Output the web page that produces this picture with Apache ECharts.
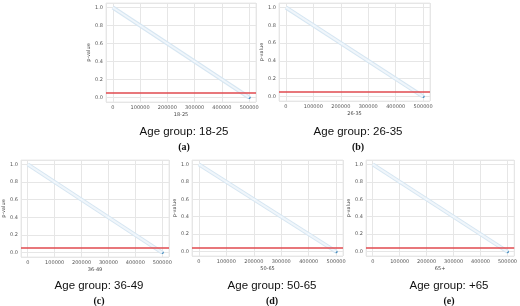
<!DOCTYPE html>
<html>
<head>
<meta charset="utf-8">
<script src="https://cdn.jsdelivr.net/npm/echarts@6/dist/echarts.min.js"></script>
<style>
  html, body { margin: 0; padding: 0; background: #fff; }
  #chart { width: 520px; height: 306px; }
</style>
</head>
<body>
<div id="chart"></div>
<script>
// age groups, one panel each
var groups = ['18-25', '26-35', '36-49', '50-65', '65+'];
var titles = ['Age group: 18-25', 'Age group: 26-35', 'Age group: 36-49', 'Age group: 50-65', 'Age group: +65'];
var letters = ['(a)', '(b)', '(c)', '(d)', '(e)'];

// diagonal of p-values (start / end of the dense band)
var bandX = [0, 500000];
var bandP = [1.0, 0.0];
// last (highlighted) point
var lastX = 500000;
var lastP = 0.0;
// significance level
var alpha = 0.05;

var xTicks = [0, 100000, 200000, 300000, 400000, 500000];
var yTicks = [0.0, 0.2, 0.4, 0.6, 0.8, 1.0];

// panel boxes [left, top, width, height] and caption centres [x, y]
var boxes = [
  [106, 3, 150, 99],
  [279, 3, 151, 98],
  [21, 160, 148, 97],
  [192, 160, 151, 96],
  [366, 160, 151, 96]
];
var captions = [[179, 128], [353, 128], [94, 282], [267, 282], [444, 282]];

var myChart = echarts.init(document.getElementById('chart'));

var grid = [], xAxis = [], yAxis = [], series = [], title = [];

groups.forEach(function (g, i) {
  var b = boxes[i];
  grid.push({
    left: b[0], top: b[1], width: b[2], height: b[3],
    show: true, borderColor: '#ebebeb', borderWidth: 1, backgroundColor: '#fff'
  });
  xAxis.push({
    gridIndex: i, type: 'value', min: -25000, max: 525000,
    name: g, nameLocation: 'middle', nameGap: 10,
    nameTextStyle: { fontSize: 5, color: '#444', fontFamily: 'DejaVu Sans' },
    axisLine: { show: false }, axisTick: { show: false },
    axisLabel: {
      customValues: xTicks, fontSize: 5, color: '#555', margin: 3, fontFamily: 'DejaVu Sans',
      formatter: function (v) { return String(v); }
    },
    splitLine: { show: true, lineStyle: { color: '#e6e6e6', width: 1 } }
  });
  yAxis.push({
    gridIndex: i, type: 'value', min: -0.05, max: 1.05,
    name: 'p-value', nameLocation: 'middle', nameGap: 13, nameRotate: 90,
    nameTextStyle: { fontSize: 5, color: '#444', fontFamily: 'DejaVu Sans' },
    axisLine: { show: false }, axisTick: { show: false },
    axisLabel: {
      customValues: yTicks, fontSize: 5, color: '#555', margin: 3, fontFamily: 'DejaVu Sans',
      formatter: function (v) { return v.toFixed(1); }
    },
    splitLine: { show: true, lineStyle: { color: '#e6e6e6', width: 1 } }
  });

  var band = bandX.map(function (x, k) { return [x, bandP[k]]; });
  // outer edge of the band
  series.push({
    type: 'line', xAxisIndex: i, yAxisIndex: i, data: band,
    showSymbol: false, silent: true,
    lineStyle: { color: '#d6e6f2', width: 4 }
  });
  // pale centre
  series.push({
    type: 'line', xAxisIndex: i, yAxisIndex: i, data: band,
    showSymbol: false, silent: true,
    lineStyle: { color: '#f0f6fb', width: 2 }
  });
  // threshold line
  series.push({
    type: 'line', xAxisIndex: i, yAxisIndex: i, data: [],
    silent: true,
    markLine: {
      symbol: 'none', silent: true, label: { show: false },
      lineStyle: { color: '#e04a4f', width: 1.5, type: 'solid' },
      data: [{ yAxis: alpha }]
    }
  });
  // last point
  series.push({
    type: 'scatter', xAxisIndex: i, yAxisIndex: i,
    data: [[lastX, lastP]], symbolSize: 3,
    itemStyle: { color: '#1f77b4' }
  });

  var c = captions[i];
  title.push({
    text: titles[i], left: c[0], top: c[1] - 7, textAlign: 'center',
    textStyle: { fontSize: 11.5, fontWeight: 'normal', color: '#111', fontFamily: 'Liberation Sans' }
  });
  title.push({
    text: letters[i], left: c[0], top: c[1] + 9, textAlign: 'center',
    textStyle: { fontSize: 10, fontWeight: 'bold', color: '#111', fontFamily: 'Liberation Serif' }
  });
});

var option = {
  animation: false,
  backgroundColor: '#fff',
  title: title,
  grid: grid,
  xAxis: xAxis,
  yAxis: yAxis,
  series: series
};
myChart.setOption(option);
</script>
</body>
</html>
